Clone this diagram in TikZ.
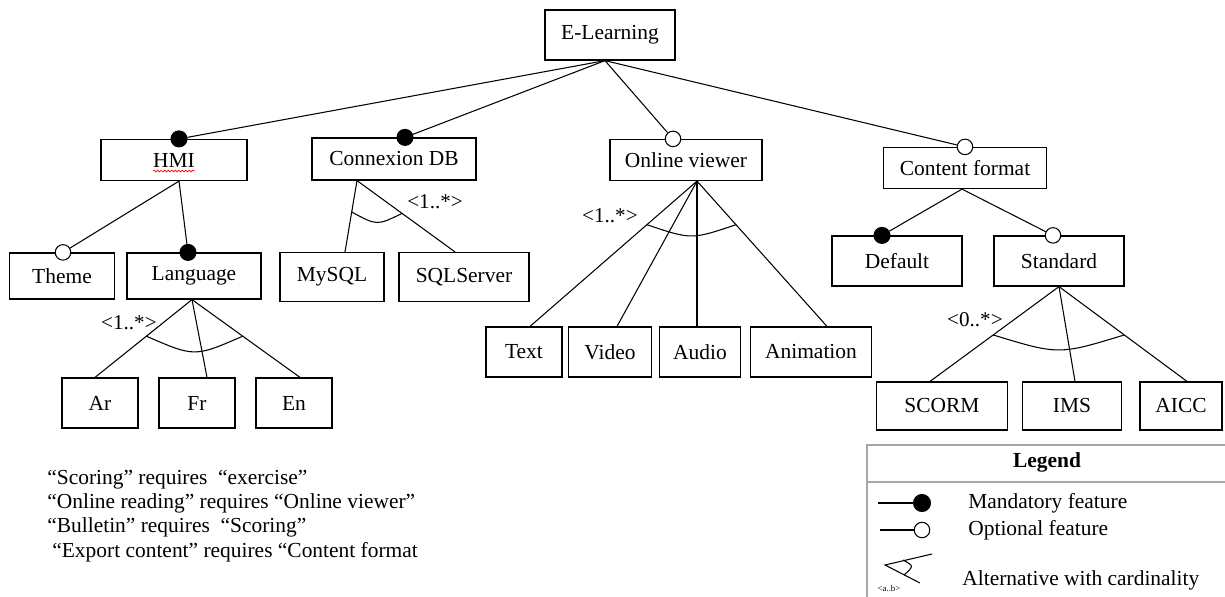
\documentclass[tikz,border=0pt]{standalone}
\usepackage{fontspec}
\setmainfont{Liberation Serif}
\usepackage{xcolor}
\usepackage{tikz}
\usetikzlibrary{positioning,calc,decorations.pathmorphing}

\begin{document}
\begin{tikzpicture}[
  x=0.02cm, y=-0.02cm,
  feat/.style={draw, line width=0.7pt, inner sep=1pt, align=center, font=\fontsize{12.2}{14}\selectfont},
  dotm/.style={circle, draw, fill=black, minimum size=0.32cm, inner sep=0pt, line width=0.6pt},
  doto/.style={circle, draw, fill=white, minimum size=0.31cm, inner sep=0pt, line width=0.6pt},
  ln/.style={line width=0.6pt},
  card/.style={font=\fontsize{12}{14}\selectfont, inner sep=0pt},
  note/.style={font=\fontsize{12.2}{14}\selectfont, anchor=base west, inner sep=0pt},
  legbox/.style={draw=gray!70, line width=1.3pt}
]
\useasboundingbox (0,0) rectangle (1225,596);

% root and first level
\node[feat, minimum width=2.6cm, minimum height=1.0cm] (root) at (610,35) {E-Learning};
\node[feat, minimum width=2.92cm, minimum height=0.82cm] (hmi) at (174,160) {HMI};
\node[feat, minimum width=3.28cm, minimum height=0.84cm] (conn) at (394,159) {Connexion DB};
\node[feat, minimum width=3.04cm, minimum height=0.82cm] (ov) at (686,160) {Online viewer};
\node[feat, minimum width=3.26cm, minimum height=0.82cm] (cf) at (965,168) {Content format};

% second level
\node[feat, minimum width=2.1cm, minimum height=0.92cm] (theme) at (62,276) {Theme};
\node[feat, minimum width=2.68cm, minimum height=0.92cm] (lang) at (194,276) {Language};
\node[feat, minimum width=2.08cm, minimum height=0.98cm] (mysql) at (332,277) {MySQL};
\node[feat, minimum width=2.6cm, minimum height=0.98cm] (sqls) at (464,277) {SQLServer};
\node[feat, minimum width=2.6cm, minimum height=1.0cm] (dflt) at (897,261) {Default};
\node[feat, minimum width=2.6cm, minimum height=1.0cm] (std) at (1059,261) {Standard};

% leaves
\node[feat, minimum width=1.52cm, minimum height=1.0cm] (ar) at (100,403) {Ar};
\node[feat, minimum width=1.52cm, minimum height=1.0cm] (fr) at (197,403) {Fr};
\node[feat, minimum width=1.52cm, minimum height=1.0cm] (en) at (294,403) {En};
\node[feat, minimum width=1.52cm, minimum height=1.0cm] (txt) at (524,352) {Text};
\node[feat, minimum width=1.66cm, minimum height=1.0cm] (video) at (610,352) {Video};
\node[feat, minimum width=1.62cm, minimum height=1.0cm] (audio) at (700,352) {Audio};
\node[feat, minimum width=2.42cm, minimum height=1.0cm] (anim) at (811,352) {Animation};
\node[feat, minimum width=2.62cm, minimum height=0.96cm] (scorm) at (942,406) {SCORM};
\node[feat, minimum width=1.98cm, minimum height=0.96cm] (ims) at (1072,406) {IMS};
\node[feat, minimum width=1.64cm, minimum height=0.96cm] (aicc) at (1181,406) {AICC};

% spell-check mark under HMI
\draw[red, line width=0.4pt, decorate, decoration={snake, amplitude=0.5pt, segment length=2pt}]
  ($(hmi.center)+(-21,11)$) -- ($(hmi.center)+(21,11)$);

% feature dots
\node[dotm] (d-hmi) at ($(hmi.north)+(5,0)$) {};
\node[dotm] (d-conn) at ($(conn.north)+(11,0)$) {};
\node[doto] (d-ov) at ($(ov.north)+(-13,0)$) {};
\node[doto] (d-cf) at (cf.north) {};
\node[doto] (d-theme) at ($(theme.north)+(1,0)$) {};
\node[dotm] (d-lang) at ($(lang.north)+(-6,0)$) {};
\node[dotm] (d-dflt) at ($(dflt.north)+(-15,0)$) {};
\node[doto] (d-std) at ($(std.north)+(-6,0)$) {};

% branch points
\coordinate (root-b) at ($(root.south)+(-5,0)$);
\coordinate (hmi-b) at ($(hmi.south)+(5,0)$);
\coordinate (cf-b) at ($(cf.south)+(-3,0)$);
\coordinate (lang-b) at ($(lang.south)+(-2,0)$);
\coordinate (conn-b) at ($(conn.south)+(-37,0)$);
\coordinate (ov-b) at ($(ov.south)+(11,0)$);
\coordinate (std-b) at (std.south);

\draw[ln] (root-b) -- (d-hmi);
\draw[ln] (root-b) -- (d-conn);
\draw[ln] (root-b) -- (d-ov);
\draw[ln] (root-b) -- (d-cf);
\draw[ln] (hmi-b) -- (d-theme);
\draw[ln] (hmi-b) -- (d-lang);
\draw[ln] (cf-b) -- (d-dflt);
\draw[ln] (cf-b) -- (d-std);

% groups with cardinality
\draw[ln] (lang-b) -- ($(ar.north)+(-5,0)$) coordinate[pos=0.47] (lang-l);
\draw[ln] (lang-b) -- ($(fr.north)+(10,0)$);
\draw[ln] (lang-b) -- ($(en.north)+(6,0)$) coordinate[pos=0.47] (lang-r);
\draw[ln] (lang-l) .. controls ($(lang-l)!0.5!(lang-r)+(0,21)$) .. (lang-r);
\node[card, anchor=east] (lang-c) at (157,323) {<1..*>};

\draw[ln] (conn-b) -- ($(mysql.north)+(13,0)$) coordinate[pos=0.44] (conn-l);
\draw[ln] (conn-b) -- ($(sqls.north)+(-9,0)$) coordinate[pos=0.46] (conn-r);
\draw[ln] (conn-l) .. controls ($(conn-l)!0.5!(conn-r)+(0,13)$) .. (conn-r);
\node[card, anchor=west] (conn-c) at (407,202) {<1..*>};

\draw[ln] (ov-b) -- ($(txt.north)+(6,0)$) coordinate[pos=0.3] (ov-l);
\draw[ln] (ov-b) -- ($(video.north)+(7,0)$);
\draw[ln] (ov-b) -- ($(audio.north)+(-3,0)$);
\draw[ln] (ov-b) -- ($(anim.north)+(16,0)$) coordinate[pos=0.3] (ov-r);
\draw[ln] (ov-l) .. controls ($(ov-l)!0.5!(ov-r)+(0,15)$) .. (ov-r);
\node[card, anchor=east] (ov-c) at (638,216) {<1..*>};

\draw[ln] (std-b) -- ($(scorm.north)+(-12,0)$) coordinate[pos=0.51] (std-l);
\draw[ln] (std-b) -- ($(ims.north)+(3,0)$);
\draw[ln] (std-b) -- ($(aicc.north)+(6,0)$) coordinate[pos=0.51] (std-r);
\draw[ln] (std-l) .. controls ($(std-l)!0.5!(std-r)+(0,20)$) .. (std-r);
\node[card, anchor=east] (std-c) at (1003,320) {<0..*>};

% constraints
\node[note] (c1) at (47,484) {“Scoring” requires \ “exercise”};
\node[note] (c2) at (47,508) {“Online reading” requires “Online viewer”};
\node[note] (c3) at (47,532) {“Bulletin” requires \ “Scoring”};
\node[note] (c4) at (52,557) {“Export content” requires “Content format};

% legend
\draw[legbox] (867,600) -- (867,445) -- (1230,445);
\draw[legbox] (867,482) -- (1230,482);
\node[font=\fontsize{12.2}{14}\selectfont\bfseries] (leg) at (1047,462) {Legend};
\draw[ln] (878,503) -- (922,503);
\node[dotm, minimum size=0.34cm] (leg-m) at (922,503) {};
\draw[ln] (880,530) -- (915,530);
\node[doto] (leg-o) at (922,530) {};
\node[note] (leg-mt) at (968,508) {Mandatory feature};
\node[note] (leg-ot) at (968,535) {Optional feature};
\draw[ln] (932,554) -- (885,565) -- (920,583);
\draw[ln] (903,560) .. controls (914,566) .. (904,575);
\node[font=\fontsize{5}{6}\selectfont, inner sep=0pt] (leg-ab) at (889,589) {<a..b>};
\node[note] (leg-at) at (962,585) {Alternative with cardinality};

\end{tikzpicture}
\end{document}
